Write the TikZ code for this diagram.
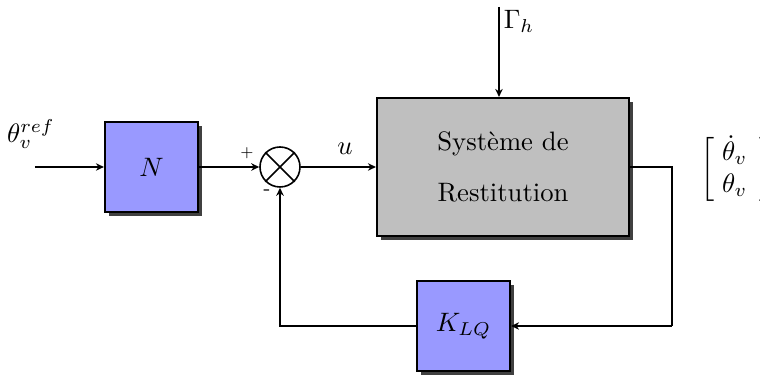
\documentclass[tikz,border=0pt]{standalone}
\usetikzlibrary{arrows.meta,shadows}
\begin{document}
\begin{tikzpicture}[x=0.375pt,y=-0.375pt,>={Stealth[length=3pt,width=2.8pt]},line width=0.55pt]
\useasboundingbox (0,0) rectangle (760,376);
\tikzset{
  shad/.style={drop shadow={shadow xshift=1.4pt,shadow yshift=-1.4pt,fill=black!75,opacity=1}},
  blk/.style={draw,line width=0.8pt,fill=blue!40,shad,minimum width=34.9pt,minimum height=33.6pt,inner sep=0pt},
  sysblk/.style={draw,line width=0.8pt,fill=gray!50,shad,minimum width=94.5pt,minimum height=51.75pt,align=center,inner sep=0pt},
  sumnode/.style={draw,circle,line width=0.6pt,minimum size=15pt,inner sep=0pt},
  lbl/.style={inner sep=0pt}
}
\node[blk] (N) at (151.5,167) {$N$};
\node[sumnode] (S) at (280,167) {};
\draw[line width=0.6pt] (S.north west) -- (S.south east) (S.north east) -- (S.south west);
\node[sysblk] (P) at (503,167) {Système de\\[7pt]Restitution};
\node[blk] (K) at (463.5,326) {$K_{LQ}$};

\coordinate (in) at (35,167);
\coordinate (gtop) at (499,7);
\coordinate (r1) at (672,167);
\coordinate (r2) at (672,326);

\draw[->] (in) -- (N.west);
\draw[->] (N.east) -- (S.west);
\draw[->] (S.east) -- (P.west |- S.east);
\draw[->] (gtop) -- (gtop |- P.north);
\draw (P.east |- r1) -- (r1) -- (r2);
\draw[->] (r2) -- (K.east);
\draw[->] (K.west) -- (S.south |- K.west) -- (S.south);

\node[lbl] (tref) at (31,134) {$\theta_v^{ref}$};
\node[lbl] (gam) at (519,21) {$\Gamma_h$};
\node[lbl] (ul) at (345,149) {$u$};
\node[lbl] (plus) at (247,153) {\tiny $+$};
\node[lbl] (minus) at (267,192) {\scriptsize -};
\node[lbl,anchor=west] (out) at (700,169) {$\left[\begin{array}{@{\;}c@{\;\,}}\dot{\theta}_v\\ \theta_v\end{array}\right]$};
\end{tikzpicture}
\end{document}
